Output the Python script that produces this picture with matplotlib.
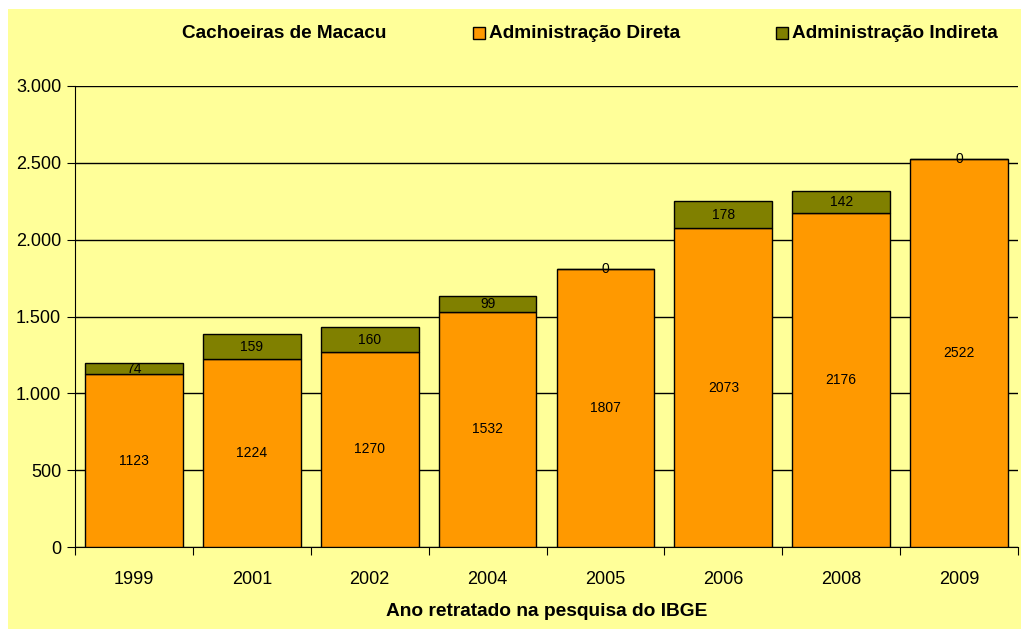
import matplotlib
matplotlib.use("Agg")
import matplotlib.pyplot as plt
from matplotlib.patches import Rectangle
import numpy as np

# dados (IBGE - Cachoeiras de Macacu)
anos = ["1999", "2001", "2002", "2004", "2005", "2006", "2008", "2009"]
direta = [1123, 1224, 1270, 1532, 1807, 2073, 2176, 2522]
indireta = [74, 159, 160, 99, 0, 178, 142, 0]
yticks = [0, 500, 1000, 1500, 2000, 2500, 3000]
ytick_labels = ["0", "500", "1.000", "1.500", "2.000", "2.500", "3.000"]

fundo = "#FFFF99"
laranja = "#FF9900"
oliva = "#808000"

plt.rcParams["font.family"] = ["Liberation Sans", "DejaVu Sans"]

fig = plt.figure(figsize=(10.21, 6.29), dpi=100)
fig.patch.set_facecolor("white")
# yellow chart area with a thin white margin top/left
fig.patches.append(Rectangle((8 / 1021, 0), 1, 1 - 9 / 629, transform=fig.transFigure,
                             facecolor=fundo, edgecolor="none", zorder=-10))

ax = fig.add_axes([75 / 1021, 1 - 547 / 629, (1018 - 75) / 1021, (547 - 86) / 629])
ax.set_facecolor(fundo)

x = np.arange(len(anos))
b1 = ax.bar(x, direta, width=0.83, color=laranja, edgecolor="black", linewidth=1, zorder=3)
b2 = ax.bar(x, indireta, width=0.83, bottom=direta, color=oliva, edgecolor="black",
            linewidth=1, zorder=3)

for i in range(len(anos)):
    ax.text(x[i], direta[i] / 2, str(direta[i]), ha="center", va="center", fontsize=10, zorder=4)
    # zero values sit right on the top edge of the bar
    ypos = direta[i] + indireta[i] / 2 if indireta[i] > 0 else direta[i]
    ax.text(x[i], ypos, str(indireta[i]), ha="center", va="center", fontsize=10, zorder=4)

ax.set_xlim(-0.5, len(anos) - 0.5)
ax.set_ylim(0, 3000)
ax.set_yticks(yticks)
ax.set_yticklabels(ytick_labels, fontsize=13)
ax.set_xticks(np.arange(len(anos) + 1) - 0.5, minor=False)
ax.set_xticklabels([])
ax.set_xticks(x, minor=True)
ax.set_xticklabels(anos, minor=True, fontsize=13)
ax.tick_params(axis="x", which="minor", length=0, pad=17)
ax.tick_params(axis="x", which="major", length=6, direction="out", color="black")
ax.tick_params(axis="y", length=6, direction="out", pad=4)
ax.grid(axis="y", color="black", linewidth=1, zorder=1)
for s in ["top", "right"]:
    ax.spines[s].set_visible(False)
ax.spines["left"].set_color("black")
ax.spines["bottom"].set_color("black")

ax.set_xlabel("Ano retratado na pesquisa do IBGE", fontsize=13.8, fontweight="bold", labelpad=11)

# legenda no topo
fig.text(182 / 1021, 1 - 33 / 629, "Cachoeiras de Macacu", fontsize=13.7, fontweight="bold",
         ha="left", va="center")
for x0, cor, txt in [(473, laranja, "Administração Direta"), (776, oliva, "Administração Indireta")]:
    fig.patches.append(Rectangle((x0 / 1021, 1 - 39 / 629), 12 / 1021, 12 / 629,
                                 transform=fig.transFigure, facecolor=cor, edgecolor="black",
                                 linewidth=1))
    fig.text((x0 + 16) / 1021, 1 - 33 / 629, txt, fontsize=13.7, fontweight="bold",
             ha="left", va="center")

fig.savefig("out.png", dpi=100, facecolor=fig.get_facecolor())
